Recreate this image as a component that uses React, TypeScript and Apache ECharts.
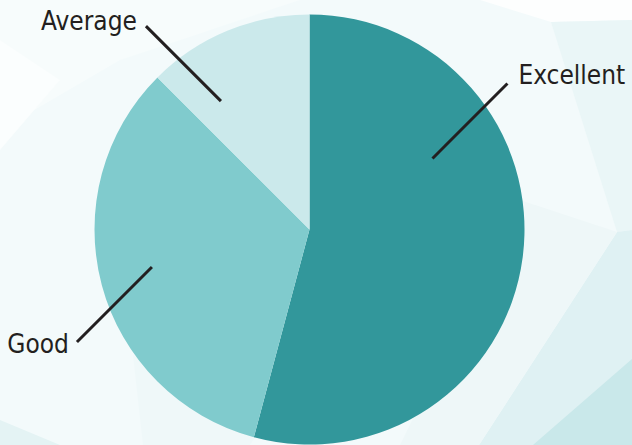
import React, { useEffect, useRef } from "react";
import * as echarts from "echarts";

// ---- data ----
const categories = ["Excellent", "Good", "Average"];
const values = [13, 8, 3];
const colors = ["#32979b", "#80cbcd", "#cbe9eb"];

// ---- layout / style (not data) ----
const CENTER: [number, number] = [309.5, 229.5];
const RADIUS = 215;
// label anchors: angle clockwise from 12 o'clock, start radius, line direction
const labelAnchors = [
  { angle: 60, r: 142, dx: 1, dy: -1, len: 106, gap: 11, oy: -9 },
  { angle: 256.6, r: 162, dx: -1, dy: 1, len: 106, gap: 8, oy: 2 },
  { angle: 325.4, r: 156, dx: -1, dy: -1, len: 106, gap: 9, oy: -5 },
];

const bgPolygons: { points: number[][]; fill: string }[] = [
  { points: [[0, 0], [300, 0], [120, 60], [0, 130]], fill: "#f7fcfc" },
  { points: [[0, 40], [60, 80], [0, 150]], fill: "#fbfefe" },
  { points: [[480, 0], [632, 0], [632, 20], [551, 22]], fill: "#fdfefe" },
  { points: [[551, 22], [632, 20], [632, 230], [617, 232]], fill: "#eaf6f7" },
  { points: [[617, 232], [632, 230], [632, 445], [479, 445]], fill: "#dff1f3" },
  { points: [[632, 359], [632, 445], [533, 445]], fill: "#c9e8ea" },
  { points: [[520, 200], [617, 232], [479, 445], [400, 445]], fill: "#eef7f8" },
  { points: [[133, 355], [260, 430], [250, 445], [143, 445]], fill: "#eff8f9" },
  { points: [[0, 420], [60, 445], [0, 445]], fill: "#e4f3f4" },
];

export default function App() {
  const ref = useRef<HTMLDivElement>(null);
  useEffect(() => {
    if (!ref.current) return;
    const chart = echarts.init(ref.current, undefined, { renderer: "svg" });
    const font = "'Liberation Sans Narrow', 'DejaVu Sans Condensed', 'Roboto', sans-serif";
    const pieData = (transparent: boolean) =>
      categories.map((c, i) => ({
        name: c,
        value: values[i],
        itemStyle: { color: transparent ? "rgba(0,0,0,0)" : colors[i] },
      }));
    chart.setOption({
      animation: false,
      backgroundColor: "#f3fafb",
      graphic: bgPolygons.map((p) => ({
        type: "polygon",
        z: -10,
        silent: true,
        shape: { points: p.points },
        style: { fill: p.fill },
      })),
      series: [
        {
          type: "pie",
          center: CENTER,
          radius: RADIUS,
          startAngle: 90,
          clockwise: true,
          z: 2,
          itemStyle: { borderWidth: 0 },
          label: { show: false },
          labelLine: { show: false },
          data: pieData(false),
        },
        {
          type: "pie",
          center: CENTER,
          radius: RADIUS,
          startAngle: 90,
          clockwise: true,
          z: 5,
          silent: true,
          avoidLabelOverlap: false,
          itemStyle: { borderWidth: 0 },
          data: pieData(true),
          label: {
            show: true,
            position: "outside",
            formatter: "{b}",
            color: "#231f20",
            fontFamily: font,
            fontSize: 26,
          },
          labelLine: {
            show: true,
            lineStyle: { color: "#231f20", width: 3 },
          },
          labelLayout: (params: any) => {
            const a = labelAnchors[params.dataIndex];
            const rad = (a.angle * Math.PI) / 180;
            const sx = CENTER[0] + a.r * Math.sin(rad);
            const sy = CENTER[1] - a.r * Math.cos(rad);
            const d = a.len / Math.SQRT2;
            const ex = sx + a.dx * d;
            const ey = sy + a.dy * d;
            return {
              x: ex + a.dx * a.gap,
              y: ey + a.oy,
              align: a.dx > 0 ? "left" : "right",
              verticalAlign: "middle",
              labelLinePoints: [
                [sx, sy],
                [ex, ey],
                [ex, ey],
              ],
            };
          },
        },
      ],
    });
    return () => chart.dispose();
  }, []);
  return (
    <div
      ref={ref}
      style={{ position: "absolute", left: 0, top: 0, width: 632, height: 445 }}
    />
  );
}
